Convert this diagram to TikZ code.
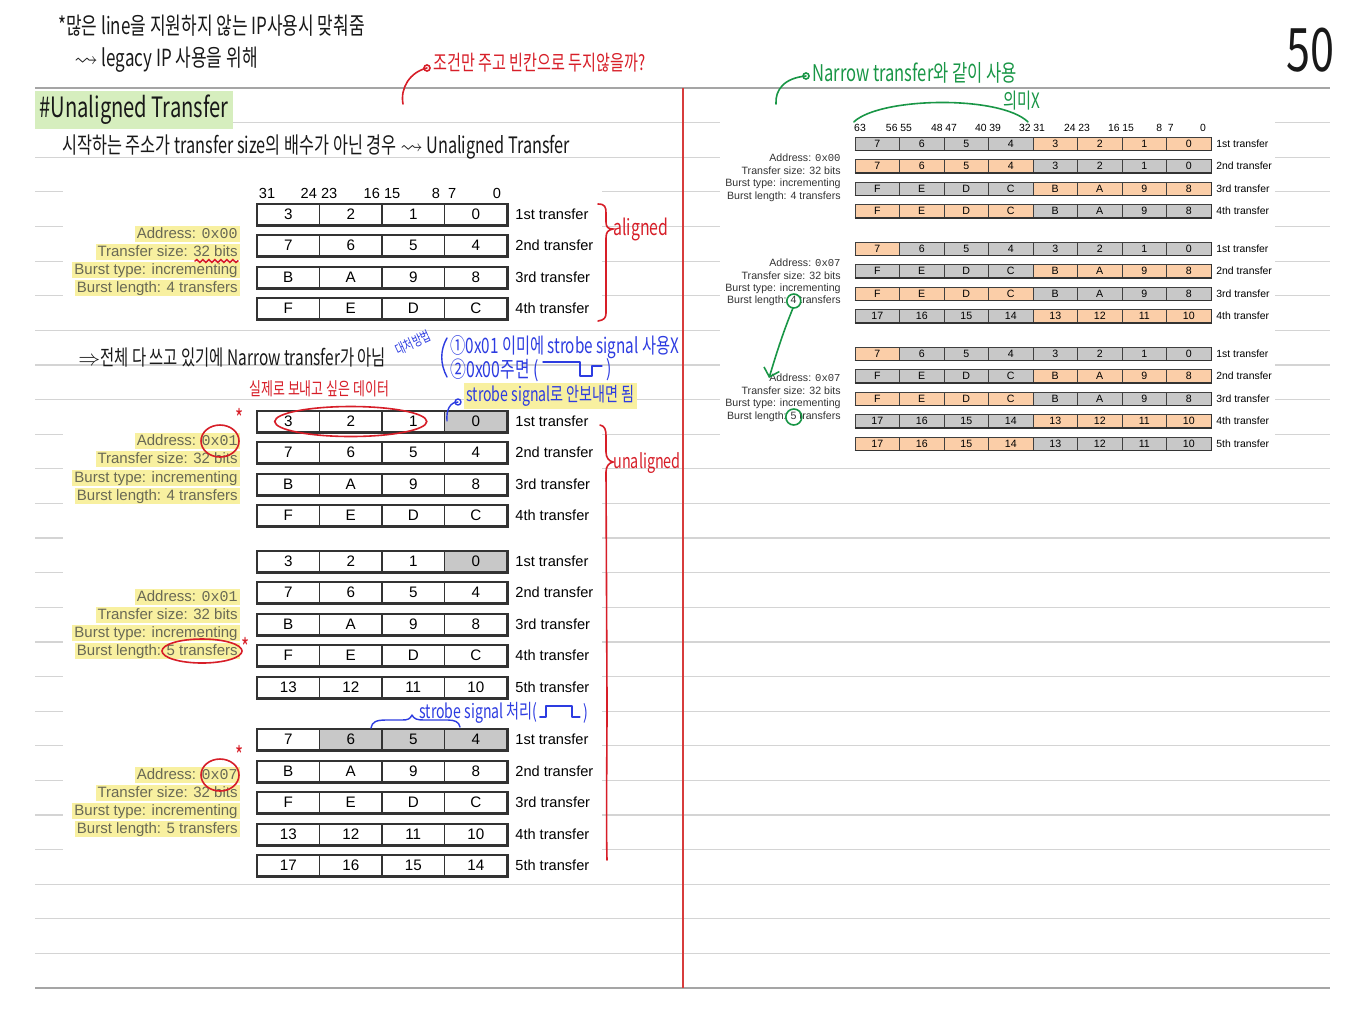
\documentclass[tikz,border=0pt]{standalone}
\usepackage{fontspec}
\usepackage{amssymb}
\setmainfont{Liberation Sans}
\setmonofont{Liberation Mono}
\newfontfamily\hand[FakeStretch=0.72]{Noto Sans CJK KR}
\newcommand\handsz[1]{\hand\fontsize{#1}{#1}\selectfont}
\usetikzlibrary{decorations.pathmorphing,arrows.meta}

\definecolor{ruleline}{RGB}{212,212,212}
\definecolor{ruledark}{RGB}{165,165,165}
\definecolor{hly}{RGB}{248,240,160}
\definecolor{hlg}{RGB}{214,238,190}
\definecolor{cellgray}{RGB}{200,200,200}
\definecolor{orng}{RGB}{251,206,168}
\definecolor{infotxt}{RGB}{105,105,85}
\definecolor{redpen}{RGB}{215,30,40}
\definecolor{bluepen}{RGB}{45,60,225}
\definecolor{greenpen}{RGB}{25,150,70}
\definecolor{margin}{RGB}{215,60,60}

\begin{document}
\begin{tikzpicture}[x=0.5pt,y=-0.5pt,
    lcell/.style={draw=black!80,line width=0.6pt,minimum width=31.25pt,minimum height=10.5pt,inner sep=0pt,font=\fontsize{7.6}{8}\selectfont},
    rcell/.style={draw=black!75,line width=0.5pt,minimum width=22.25pt,minimum height=6.5pt,inner sep=0pt,font=\fontsize{5.3}{6}\selectfont},
    cw/.style={fill=white},
    cg/.style={fill=cellgray},
    co/.style={fill=orng},
    ledge/.style={line width=1.2pt,black!80},
    redge/.style={line width=0.9pt,black!80},
    lhead/.style={inner sep=0pt,font=\fontsize{7.3}{8}\selectfont},
    rhead/.style={inner sep=0pt,font=\fontsize{5.2}{6}\selectfont},
    llab/.style={anchor=west,inner sep=0pt,font=\fontsize{7.3}{8}\selectfont},
    rlab/.style={anchor=west,inner sep=0pt,font=\fontsize{5.2}{6}\selectfont},
    linfo/.style={anchor=east,fill=hly,text=infotxt,inner xsep=1pt,inner ysep=0.5pt,text height=5.8pt,text depth=1.6pt,font=\fontsize{7.5}{8}\selectfont},
    rinfo/.style={anchor=east,inner sep=0pt,text=black!80,font=\fontsize{5.3}{6}\selectfont},
    hw/.style={anchor=west,inner sep=0pt,text=black!90},
    redtext/.style={hw,text=redpen},
    bluetext/.style={hw,text=bluepen},
    greentext/.style={hw,text=greenpen},
    redmark/.style={redpen,line width=0.8pt,line cap=round},
    bluemark/.style={bluepen,line width=0.7pt,line cap=round,line join=round},
    greenmark/.style={greenpen,line width=0.8pt,line cap=round}]
\useasboundingbox (0,0) rectangle (1365,1024);
\fill[white] (0,0) rectangle (1365,1024);

% ruled page
\foreach \k in {1,...,25}
    \draw[ruleline,line width=0.6pt] (35,88+34.62*\k) -- (1330,88+34.62*\k);
\draw[ruledark,line width=0.8pt] (35,88) -- (1330,88);
\draw[ruledark,line width=0.8pt] (35,988) -- (1330,988);
\draw[margin,line width=0.6pt] (683,88) -- (683,988);

% pasted figures
\fill[white] (63,179) rectangle (602,326);
\fill[white] (63,404) rectangle (602,881);
\fill[white] (720,112) rectangle (1275,456);

% notes on top
\node[hw,font=\handsz{11.8}] (note1) at (58,26) {*많은 line을 지원하지 않는 IP사용시 맞춰줌};
\node[hw,font=\handsz{11.8}] (note2) at (74,60) {$\leadsto$ legacy IP 사용을 위해};
\node[hw,font=\handsz{30}] (pageno) at (1286,50) {50};
\node[hw,fill=hlg,inner xsep=2pt,inner ysep=2pt,font=\handsz{14}] (title) at (35,110) {\#Unaligned Transfer};
\node[hw,font=\handsz{11.3}] (note3) at (62,147) {시작하는 주소가 transfer size의 배수가 아닌 경우 $\leadsto$ Unaligned Transfer};
\node[hw,font=\handsz{10.7}] (note4) at (78,357) {$\Rightarrow$전체 다 쓰고 있기에 Narrow transfer가 아님};

% aligned, 0x00
\foreach \x/\t [count=\i] in {267/31, 319/24 23, 382/16 15, 444/8\ \ 7, 497/0}
    \node[lhead] (ta-h\i) at (\x,193) {\t};
\foreach \y/\row/\nm [count=\ri] in {214.5/{3/cw,2/cw,1/cw,0/cw}/1st, 245.5/{7/cw,6/cw,5/cw,4/cw}/2nd,
        277.5/{B/cw,A/cw,9/cw,8/cw}/3rd, 308.5/{F/cw,E/cw,D/cw,C/cw}/4th}{
    \foreach \v/\s [count=\i] in \row
        \node[lcell,\s] (ta\ri-\i) at (225.75+62.5*\i,\y) {\v};
    \draw[ledge] (ta\ri-1.south west) -- (ta\ri-4.south east) -- (ta\ri-4.north east);
    \node[llab] (ta\ri-lab) at (515,\y) {\nm\ transfer};
}
\node[linfo] (ta-addr) at (240,234) {Address: \texttt{0x00}};
\node[linfo] (ta-size) at (240,252) {Transfer size: 32 bits};
\node[linfo] (ta-type) at (240,270) {Burst type: incrementing};
\node[linfo] (ta-len) at (240,288) {Burst length: 4 transfers};

% unaligned, 0x01, 4 transfers
\foreach \y/\row/\nm [count=\ri] in {421.5/{3/cw,2/cw,1/cw,0/cg}/1st, 452.5/{7/cw,6/cw,5/cw,4/cw}/2nd,
        484.5/{B/cw,A/cw,9/cw,8/cw}/3rd, 515.5/{F/cw,E/cw,D/cw,C/cw}/4th}{
    \foreach \v/\s [count=\i] in \row
        \node[lcell,\s] (tb\ri-\i) at (225.75+62.5*\i,\y) {\v};
    \draw[ledge] (tb\ri-1.south west) -- (tb\ri-4.south east) -- (tb\ri-4.north east);
    \node[llab] (tb\ri-lab) at (515,\y) {\nm\ transfer};
}
\node[linfo] (tb-addr) at (240,441) {Address: \texttt{0x01}};
\node[linfo] (tb-size) at (240,459) {Transfer size: 32 bits};
\node[linfo] (tb-type) at (240,478) {Burst type: incrementing};
\node[linfo] (tb-len) at (240,496) {Burst length: 4 transfers};

% unaligned, 0x01, 5 transfers
\foreach \y/\row/\nm [count=\ri] in {561.5/{3/cw,2/cw,1/cw,0/cg}/1st, 592.5/{7/cw,6/cw,5/cw,4/cw}/2nd,
        624.5/{B/cw,A/cw,9/cw,8/cw}/3rd, 655.5/{F/cw,E/cw,D/cw,C/cw}/4th, 687.5/{13/cw,12/cw,11/cw,10/cw}/5th}{
    \foreach \v/\s [count=\i] in \row
        \node[lcell,\s] (tc\ri-\i) at (225.75+62.5*\i,\y) {\v};
    \draw[ledge] (tc\ri-1.south west) -- (tc\ri-4.south east) -- (tc\ri-4.north east);
    \node[llab] (tc\ri-lab) at (515,\y) {\nm\ transfer};
}
\node[linfo] (tc-addr) at (240,597) {Address: \texttt{0x01}};
\node[linfo] (tc-size) at (240,615) {Transfer size: 32 bits};
\node[linfo] (tc-type) at (240,633) {Burst type: incrementing};
\node[linfo] (tc-len) at (240,651) {Burst length: 5 transfers};

% unaligned, 0x07, 5 transfers
\foreach \y/\row/\nm [count=\ri] in {739.5/{7/cw,6/cg,5/cg,4/cg}/1st, 771.5/{B/cw,A/cw,9/cw,8/cw}/2nd,
        802.5/{F/cw,E/cw,D/cw,C/cw}/3rd, 834.5/{13/cw,12/cw,11/cw,10/cw}/4th, 865.5/{17/cw,16/cw,15/cw,14/cw}/5th}{
    \foreach \v/\s [count=\i] in \row
        \node[lcell,\s] (td\ri-\i) at (225.75+62.5*\i,\y) {\v};
    \draw[ledge] (td\ri-1.south west) -- (td\ri-4.south east) -- (td\ri-4.north east);
    \node[llab] (td\ri-lab) at (515,\y) {\nm\ transfer};
}
\node[linfo] (td-addr) at (240,775) {Address: \texttt{0x07}};
\node[linfo] (td-size) at (240,793) {Transfer size: 32 bits};
\node[linfo] (td-type) at (240,811) {Burst type: incrementing};
\node[linfo] (td-len) at (240,829) {Burst length: 5 transfers};

% 64-bit bus, 0x00
\foreach \x/\t [count=\i] in {860/63, 899/56 55, 944/48 47, 988/40 39, 1032/32 31, 1077/24 23, 1121/16 15, 1165/8\ \ 7, 1203/0}
    \node[rhead] (rh\i) at (\x,128) {\t};
\foreach \y/\row/\nm [count=\ri] in {143.5/{7/cg,6/cg,5/cg,4/cg,3/co,2/co,1/co,0/co}/1st,
        166/{7/co,6/co,5/co,4/co,3/cg,2/cg,1/cg,0/cg}/2nd,
        188.5/{F/cg,E/cg,D/cg,C/cg,B/co,A/co,9/co,8/co}/3rd,
        211/{F/co,E/co,D/co,C/co,B/cg,A/cg,9/cg,8/cg}/4th}{
    \foreach \v/\s [count=\i] in \row
        \node[rcell,\s] (ra\ri-\i) at (832.75+44.5*\i,\y) {\v};
    \draw[redge] (ra\ri-1.south west) -- (ra\ri-8.south east) -- (ra\ri-8.north east);
    \node[rlab] (ra\ri-lab) at (1216,\y) {\nm\ transfer};
}
\node[rinfo] (ra-addr) at (841,158) {Address: \texttt{0x00}};
\node[rinfo] (ra-size) at (841,171) {Transfer size: 32 bits};
\node[rinfo] (ra-type) at (841,184) {Burst type: incrementing};
\node[rinfo] (ra-len) at (841,197) {Burst length: 4 transfers};

% 64-bit bus, 0x07, 4 transfers
\foreach \y/\row/\nm [count=\ri] in {248.5/{7/co,6/cg,5/cg,4/cg,3/cg,2/cg,1/cg,0/cg}/1st,
        271/{F/cg,E/cg,D/cg,C/cg,B/co,A/co,9/co,8/co}/2nd,
        293.5/{F/co,E/co,D/co,C/co,B/cg,A/cg,9/cg,8/cg}/3rd,
        316/{17/cg,16/cg,15/cg,14/cg,13/co,12/co,11/co,10/co}/4th}{
    \foreach \v/\s [count=\i] in \row
        \node[rcell,\s] (rb\ri-\i) at (832.75+44.5*\i,\y) {\v};
    \draw[redge] (rb\ri-1.south west) -- (rb\ri-8.south east) -- (rb\ri-8.north east);
    \node[rlab] (rb\ri-lab) at (1216,\y) {\nm\ transfer};
}
\node[rinfo] (rb-addr) at (841,263) {Address: \texttt{0x07}};
\node[rinfo] (rb-size) at (841,276) {Transfer size: 32 bits};
\node[rinfo] (rb-type) at (841,289) {Burst type: incrementing};
\node[rinfo] (rb-len) at (841,301) {Burst length: 4 transfers};

% 64-bit bus, 0x07, 5 transfers
\foreach \y/\row/\nm [count=\ri] in {353.5/{7/co,6/cg,5/cg,4/cg,3/cg,2/cg,1/cg,0/cg}/1st,
        376/{F/cg,E/cg,D/cg,C/cg,B/co,A/co,9/co,8/co}/2nd,
        398.5/{F/co,E/co,D/co,C/co,B/cg,A/cg,9/cg,8/cg}/3rd,
        421/{17/cg,16/cg,15/cg,14/cg,13/co,12/co,11/co,10/co}/4th,
        443.5/{17/co,16/co,15/co,14/co,13/cg,12/cg,11/cg,10/cg}/5th}{
    \foreach \v/\s [count=\i] in \row
        \node[rcell,\s] (rc\ri-\i) at (832.75+44.5*\i,\y) {\v};
    \draw[redge] (rc\ri-1.south west) -- (rc\ri-8.south east) -- (rc\ri-8.north east);
    \node[rlab] (rc\ri-lab) at (1216,\y) {\nm\ transfer};
}
\node[rinfo] (rc-addr) at (841,378) {Address: \texttt{0x07}};
\node[rinfo] (rc-size) at (841,391) {Transfer size: 32 bits};
\node[rinfo] (rc-type) at (841,404) {Burst type: incrementing};
\node[rinfo] (rc-len) at (841,417) {Burst length: 5 transfers};

% red pen
\node[redtext,font=\handsz{10.5}] (redq) at (433,63) {조건만 주고 빈칸으로 두지않을까?};
\coordinate (redtail) at (403,104);
\draw[redmark] (redtail) .. controls (400,88) and (410,72) .. ([xshift=-3pt,yshift=-2.5pt]redq.west);
\draw[redmark] ([xshift=-3pt,yshift=-2.5pt]redq.west) circle[radius=3];
\draw[redmark,decorate,decoration={snake,amplitude=0.7pt,segment length=3pt}] (195,261) -- (238,261);
\draw[redmark] (598,204) .. controls (605,204) and (606,207) .. (606,213) -- (606,222)
    .. controls (606,227) and (608,229) .. (613,229) .. controls (608,230) and (606,232) .. (606,238)
    -- (606,313) .. controls (606,318) and (604,320) .. (598,321);
\node[redtext,font=\handsz{11}] (alg) at (613,229) {aligned};
\node[redtext,font=\handsz{9}] (want) at (249,389) {실제로 보내고 싶은 데이터};
\draw[redmark] (tb1-2) ellipse[x radius=76,y radius=15];
\draw[redmark] ([xshift=-10pt]tb-addr.east) ellipse[x radius=19,y radius=16];
\node[redtext,font=\handsz{12}] (star2) at (235,418) {*};
\draw[redmark] (600,425) .. controls (605,426) and (606,430) .. (606,436) -- (606,452)
    .. controls (606,458) and (609,461) .. (613,462) .. controls (609,463) and (606,466) .. (606,472)
    -- (607,700) .. controls (607,760) and (606,820) .. (607,860);
\node[redtext,font=\handsz{10}] (unalg) at (613,463) {unaligned};
\draw[redmark] ([xshift=-19pt]tc-len.east) ellipse[x radius=40,y radius=12];
\node[redtext,font=\handsz{12}] (star3) at (241,647) {*};
\draw[redmark] ([xshift=-10pt]td-addr.east) ellipse[x radius=19,y radius=16];
\node[redtext,font=\handsz{12}] (star4) at (235,755) {*};

% blue pen
\node[bluetext,font=\handsz{7},rotate=25] (howto) at (396,351) {대처방법};
\draw[bluemark] (447,338) .. controls (440,350) and (440,364) .. (447,377);
\node[bluetext,font=\handsz{10.6}] (sol1) at (450,347) {①0x01 이미에 strobe signal 사용X};
\node[bluetext,font=\handsz{11}] (sol2) at (450,370) {②0x00주면 (};
\draw[bluemark] ([xshift=2pt]sol2.east) ++(0,-8) -- ++(37,0) -- ++(0,14) -- ++(12,0) -- ++(0,-10) -- ++(10,0)
    node[bluetext,font=\handsz{11},yshift=-2pt] (sol2end) {\,)};
\node[bluetext,fill=hly,inner xsep=1pt,inner ysep=1pt,font=\handsz{9.8}] (sig) at (464,396) {strobe signal로 안보내면 됨};
\coordinate (bluetail) at (447,421);
\draw[bluemark] (bluetail) .. controls (446,410) and (450,402) .. ([xshift=-3pt,yshift=-3pt]sig.west);
\draw[bluemark] ([xshift=-3pt,yshift=-3pt]sig.west) circle[radius=3];
\node[bluetext,font=\handsz{9.8}] (strb) at (419,713) {strobe signal 처리(};
\draw[bluemark] ([xshift=1pt]strb.east) ++(0,4) -- ++(6,0) -- ++(0,-11) -- ++(26,0) -- ++(0,11) -- ++(8,0)
    node[bluetext,font=\handsz{9.8},yshift=2pt] (strbend) {\,)};
\draw[bluemark] (371,728) .. controls (372,722) and (376,720) .. (386,720) -- (402,720)
    .. controls (408,720) and (410,719) .. (412,715) .. controls (414,719) and (417,720) .. (424,720)
    -- (448,720) .. controls (455,720) and (459,722) .. (460,727);

% green pen
\node[greentext,font=\handsz{11.5}] (narrow) at (812,73) {Narrow transfer와 같이 사용};
\coordinate (greentail) at (776,104);
\draw[greenmark] (greentail) .. controls (775,90) and (784,78) .. ([xshift=-3pt,yshift=-1.5pt]narrow.west);
\draw[greenmark] ([xshift=-3pt,yshift=-1.5pt]narrow.west) circle[radius=3];
\draw[greenmark] ([yshift=1pt]rh1.north west) .. controls (880,97) and (1000,95) .. ([xshift=-2pt,yshift=1pt]rh5.north);
\node[greentext,font=\handsz{10.6}] (nomean) at (1003,101) {의미X};
\draw[greenmark] ([xshift=-23.6pt]rb-len.east) circle[radius=7];
\draw[greenmark] ([xshift=-23.6pt]rc-len.east) circle[radius=8];
\draw[greenmark,-{Straight Barb[length=4pt]}] ([xshift=-24pt,yshift=-3.5pt]rb-len.east)
    .. controls (782,335) and (776,355) .. (rc-addr.west);
\end{tikzpicture}
\end{document}
